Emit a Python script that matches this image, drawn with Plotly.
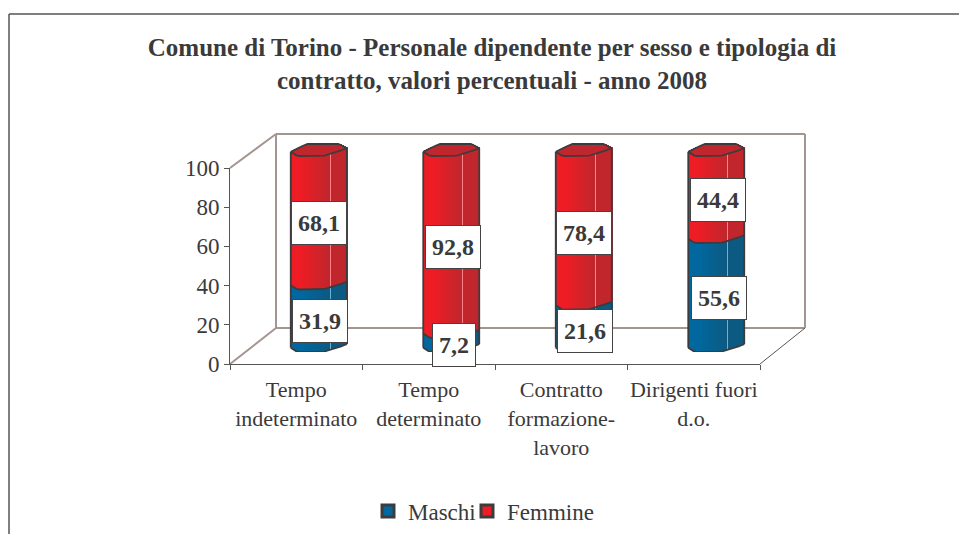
import plotly.graph_objects as go

categories = ["Tempo<br>indeterminato", "Tempo<br>determinato", "Contratto<br>formazione-<br>lavoro", "Dirigenti fuori<br>d.o."]
maschi = [31.9, 7.2, 21.6, 55.6]
femmine = [68.1, 92.8, 78.4, 44.4]
maschi_labels = ["31,9", "7,2", "21,6", "55,6"]
femmine_labels = ["68,1", "92,8", "78,4", "44,4"]
y_ticks = [0, 20, 40, 60, 80, 100]
title_text = "<b>Comune di Torino - Personale dipendente per sesso e tipologia di<br>contratto, valori percentuali - anno 2008</b>"

W, H = 959, 534
TXT = "#3a3a3a"
SERIF = "Liberation Serif"
BLUE_L, BLUE_R = (0, 104, 158), (12, 90, 130)
RED_L, RED_R = (238, 28, 36), (193, 38, 45)
CAP = "#bf262d"
EDGE = "#3c3c3e"

PX_Y = 1.96          # px per percentage point
PX_CAT = 132.5       # px per category
STRIPS = 56
BAR_W = STRIPS / PX_CAT
Y2_TOP = 110


def px(x):
    return x / W


def py(y):
    return (H - y) / H


def lerp(pts, t):
    for (a, va), (b, vb) in zip(pts, pts[1:]):
        if t <= b:
            return va + (vb - va) * (t - a) / (b - a)
    return pts[-1][1]


FRONT = [(0, 4.3), (.05, 2.2), (.12, 0), (.57, 0), (.8, 3.6), (1, 7.8)]
BACK = [(0, 4.3), (.12, 8), (.3, 12), (.86, 12), (1, 7.8)]


def front(t):
    return lerp(FRONT, t) / PX_Y


def back(t):
    return lerp(BACK, t) / PX_Y


def shade(t, left, right):
    if abs(t - .71) < .012:
        left, right = tuple(min(255, c + 90) for c in left), tuple(min(255, c + 90) for c in right)
    k = 0 if t < .18 else min(1, (t - .18) / .5)
    return "rgb(%d,%d,%d)" % tuple(round(a + (b - a) * k) for a, b in zip(left, right))


ts = [(k + .5) / STRIPS for k in range(STRIPS)]
xs, b_m, h_m, c_m, b_f, h_f, c_f, b_c, h_c = [], [], [], [], [], [], [], [], []
for i, (m, f) in enumerate(zip(maschi, femmine)):
    for t in ts:
        xs.append(i + (t - .5) * BAR_W)
        b_m.append(front(t))
        h_m.append(m)
        c_m.append(shade(t, BLUE_L, BLUE_R))
        b_f.append(m + front(t))
        h_f.append(f)
        c_f.append(shade(t, RED_L, RED_R))
        b_c.append(m + f + front(t))
        h_c.append(back(t) - front(t))

fig = go.Figure()
fig.add_trace(go.Scatter(x=categories, y=[0] * 4, mode="lines", opacity=0, showlegend=False, hoverinfo="skip"))
bar_common = dict(xaxis="x2", yaxis="y2", width=1.4 / PX_CAT, showlegend=False, hoverinfo="skip", marker_line_width=0)
fig.add_trace(go.Bar(x=xs, y=h_m, base=b_m, marker_color=c_m, name="Maschi", **bar_common))
fig.add_trace(go.Bar(x=xs, y=h_f, base=b_f, marker_color=c_f, name="Femmine", **bar_common))
fig.add_trace(go.Bar(x=xs, y=h_c, base=b_c, marker_color=CAP, name="Femmine (top)", **bar_common))

# Outlines of each cylinder, following the same values
prof = [k / 20 for k in range(21)]
for i, (m, f) in enumerate(zip(maschi, femmine)):
    ox = [i + (t - .5) * BAR_W for t in prof]
    lines = [
        ([ox[0]] * 2, [front(0), m + f + front(0)]),
        ([ox[-1]] * 2, [front(1), m + f + front(1)]),
        (ox, [front(t) for t in prof]),
        (ox, [m + front(t) for t in prof]),
        (ox, [m + f + front(t) for t in prof]),
        (ox, [m + f + back(t) for t in prof]),
    ]
    for lx, ly in lines:
        fig.add_trace(go.Scatter(x=lx, y=ly, xaxis="x2", yaxis="y2", mode="lines",
                                 line=dict(color=EDGE, width=1.8), showlegend=False, hoverinfo="skip"))

# Legend entries
for name, col, lg in (("Maschi", "rgb(0,104,158)", "legend"), ("Femmine", "rgb(238,28,36)", "legend2")):
    fig.add_trace(go.Bar(x=[None], y=[None], name=name, xaxis="x2", yaxis="y2", legend=lg,
                         marker=dict(color=col, line=dict(color=EDGE, width=3))))

WALL = "#a39590"
shapes = []
for x0, y0, x1, y1, c, w in [
    (276, 134, 805, 134, WALL, 2), (805, 134, 805, 328, WALL, 2), (276, 134, 276, 328, WALL, 2),
    (276, 328, 805, 328, WALL, 2), (230, 168, 276, 134, WALL, 2), (230, 364, 276, 328, WALL, 2),
    (760, 364, 805, 328, "#555555", 1), (9, 14, 959, 14, "#555555", 1.5), (9, 14, 9, 534, "#555555", 1.5),
]:
    shapes.append(dict(type="line", xref="paper", yref="paper", x0=px(x0), x1=px(x1), y0=py(y0), y1=py(y1),
                       line=dict(color=c, width=w), layer="below"))

label_shift = [1, 3, 1, 2.5]
annotations = []
for i in range(4):
    annotations.append(dict(x=i, y=maschi[i] / 2, xref="x2", yref="y2", text="<b>%s</b>" % maschi_labels[i], showarrow=False,
                            xshift=label_shift[i], bgcolor="white", bordercolor="#444444", borderwidth=1,
                            width=52 if len(maschi_labels[i]) > 3 else 40, height=40,
                            font=dict(family=SERIF, size=24, color=TXT)))
    annotations.append(dict(x=i, y=maschi[i] + femmine[i] / 2, xref="x2", yref="y2", text="<b>%s</b>" % femmine_labels[i], showarrow=False,
                            xshift=label_shift[i] * .6, bgcolor="white", bordercolor="#444444", borderwidth=1,
                            width=52, height=40, font=dict(family=SERIF, size=24, color=TXT)))

AXC = "#555555"
legend_common = dict(orientation="h", xanchor="left", y=py(511), yanchor="middle", bgcolor="rgba(0,0,0,0)",
                     font=dict(family=SERIF, size=23, color=TXT), itemclick=False, itemdoubleclick=False)
fig.update_layout(
    width=W, height=H, margin=dict(l=0, r=0, t=0, b=0, autoexpand=False), autosize=False,
    paper_bgcolor="white", plot_bgcolor="rgba(0,0,0,0)", barmode="overlay", bargap=0,
    title=dict(text=title_text, x=492 / W, xanchor="center", y=py(56), yanchor="middle",
               font=dict(family=SERIF, size=25, color=TXT), automargin=False),
    xaxis=dict(type="category", categoryorder="array", categoryarray=categories, range=[-.5, 3.5],
               domain=[px(230), px(760)], anchor="y", tickson="boundaries", ticks="outside", ticklen=5,
               ticklabelstandoff=6,
               showgrid=False, showline=True, linecolor=AXC, linewidth=1, tickcolor=AXC, tickangle=0,
               tickfont=dict(family=SERIF, size=22, color=TXT), zeroline=False),
    yaxis=dict(range=[0, 100], domain=[py(364), py(168)], anchor="x", tickmode="array", tickvals=y_ticks,
               ticks="outside", ticklen=5, showgrid=False, showline=True, linecolor=AXC, linewidth=1, tickcolor=AXC,
               tickfont=dict(family=SERIF, size=23, color=TXT), zeroline=False),
    xaxis2=dict(range=[-.5, 3.5], domain=[px(252.5), px(782.5)], anchor="y2", visible=False),
    yaxis2=dict(range=[0, Y2_TOP], domain=[py(352), py(352 - PX_Y * Y2_TOP)], anchor="x2", visible=False),
    shapes=shapes, annotations=annotations,
    legend=dict(x=px(368), **legend_common),
    legend2=dict(x=px(467), **legend_common),
)

fig.write_html("out.html", config={"displayModeBar": False},
               post_script="document.body.style.margin='0';")
